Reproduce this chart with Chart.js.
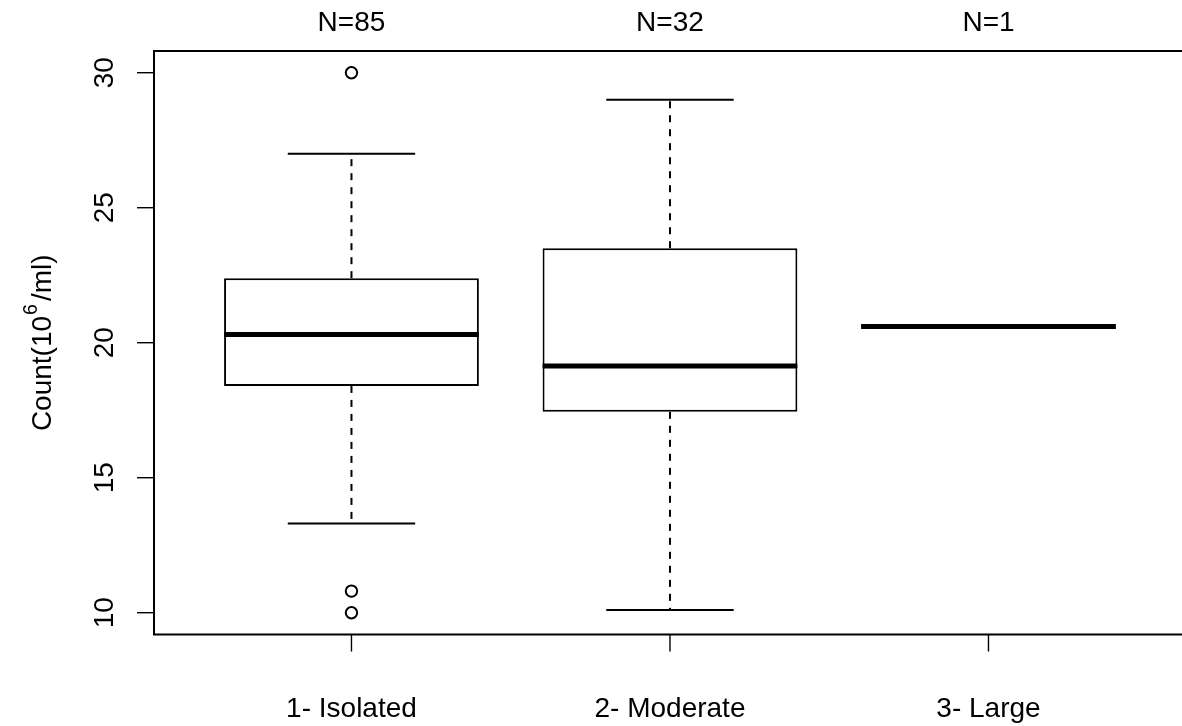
<!DOCTYPE html>
<html>
<head>
<meta charset="utf-8">
<script src="https://cdn.jsdelivr.net/npm/chart.js@4/dist/chart.umd.min.js"></script>
<style>
  html, body { margin: 0; padding: 0; background: #fff; overflow: hidden; }
</style>
</head>
<body>
<canvas id="chart" width="1182" height="726"></canvas>
<script>
// ===== data =====
const groups = ['1- Isolated', '2- Moderate', '3- Large'];
const counts = ['N=85', 'N=32', 'N=1'];
const groupX = [1, 2, 3];
const whiskerLow = [13.3, 10.1, 20.6];
const q1 = [18.4, 17.44, 20.6];
const median = [20.3, 19.14, 20.6];
const q3 = [22.39, 23.5, 20.6];
const whiskerHigh = [27.0, 29.0, 20.6];
const outlierX = [1, 1, 1];
const outlierY = [30, 10.8, 10.0];
const yTicks = [10, 15, 20, 25, 30];

const FONT = '"Liberation Sans", Arial, Helvetica, sans-serif';
const BOXWEX = 0.8;
const X_FRAME_MAX = 3.62;   // R plot region edge (just past the right side of the image)

// ===== R-ish boxplot drawing (whiskers, medians, frame, axes) =====
const rBoxplot = {
  id: 'rBoxplot',
  beforeDatasetsDraw(chart) {
    const { ctx, scales: { x, y } } = chart;
    ctx.save();
    ctx.strokeStyle = '#000';
    ctx.lineWidth = 2;
    groupX.forEach((g, i) => {
      const cx = x.getPixelForValue(g);
      const sl = x.getPixelForValue(g - BOXWEX / 4), sr = x.getPixelForValue(g + BOXWEX / 4);
      // dashed whiskers from box edge outward
      ctx.setLineDash([7, 7]);
      if (whiskerHigh[i] !== q3[i]) {
        ctx.beginPath(); ctx.moveTo(cx, y.getPixelForValue(q3[i])); ctx.lineTo(cx, y.getPixelForValue(whiskerHigh[i])); ctx.stroke();
      }
      if (whiskerLow[i] !== q1[i]) {
        ctx.beginPath(); ctx.moveTo(cx, y.getPixelForValue(q1[i])); ctx.lineTo(cx, y.getPixelForValue(whiskerLow[i])); ctx.stroke();
      }
      ctx.setLineDash([]);
      // staples
      if (whiskerHigh[i] !== q3[i]) {
        const yy = y.getPixelForValue(whiskerHigh[i]);
        ctx.beginPath(); ctx.moveTo(sl, yy); ctx.lineTo(sr, yy); ctx.stroke();
      }
      if (whiskerLow[i] !== q1[i]) {
        const yy = y.getPixelForValue(whiskerLow[i]);
        ctx.beginPath(); ctx.moveTo(sl, yy); ctx.lineTo(sr, yy); ctx.stroke();
      }
    });
    ctx.restore();
  },
  afterDatasetsDraw(chart) {
    const { ctx, chartArea: a, scales: { x, y } } = chart;
    ctx.save();
    // medians
    ctx.strokeStyle = '#000';
    ctx.lineWidth = 5;
    ctx.lineCap = 'butt';
    groupX.forEach((g, i) => {
      const yy = y.getPixelForValue(median[i]);
      ctx.beginPath();
      ctx.moveTo(x.getPixelForValue(g - BOXWEX / 2), yy);
      ctx.lineTo(x.getPixelForValue(g + BOXWEX / 2), yy);
      ctx.stroke();
    });
    // frame (right side falls just outside the canvas, as in the reference)
    ctx.lineWidth = 2;
    const fr = x.getPixelForValue(X_FRAME_MAX);
    ctx.strokeRect(a.left, a.top, fr - a.left, a.bottom - a.top);
    // ticks
    ctx.lineWidth = 1.4;
    yTicks.forEach(v => {
      const yy = y.getPixelForValue(v);
      ctx.beginPath(); ctx.moveTo(a.left - 17, yy); ctx.lineTo(a.left, yy); ctx.stroke();
    });
    groupX.forEach(g => {
      const xx = x.getPixelForValue(g);
      ctx.beginPath(); ctx.moveTo(xx, a.bottom); ctx.lineTo(xx, a.bottom + 17); ctx.stroke();
    });
    // labels
    ctx.fillStyle = '#000';
    ctx.font = '28px ' + FONT;
    ctx.textAlign = 'center';
    ctx.textBaseline = 'alphabetic';
    groupX.forEach((g, i) => {
      const xx = x.getPixelForValue(g);
      ctx.fillText(groups[i], xx, 717);
      ctx.fillText(counts[i], xx, 31);
    });
    yTicks.forEach(v => {
      const yy = y.getPixelForValue(v);
      ctx.save();
      ctx.translate(113, yy);
      ctx.rotate(-Math.PI / 2);
      ctx.fillText(String(v), 0, 0);
      ctx.restore();
    });
    // y title: Count(10^6/ml)
    const p1 = 'Count(10', sup = '6', p2 = '/ml)';
    const big = '28px ' + FONT, small = '19.6px ' + FONT;
    ctx.font = big; const w1 = ctx.measureText(p1).width, w3 = ctx.measureText(p2).width;
    ctx.font = small; const w2 = ctx.measureText(sup).width;
    const total = w1 + w2 + w3 + 4;
    ctx.save();
    ctx.translate(50.7, (a.top + a.bottom) / 2);
    ctx.rotate(-Math.PI / 2);
    ctx.textAlign = 'left';
    let s = -total / 2;
    ctx.font = big; ctx.fillText(p1, s, 0); s += w1 + 1;
    ctx.font = small; ctx.fillText(sup, s, -14); s += w2 + 3;
    ctx.font = big; ctx.fillText(p2, s, 0);
    ctx.restore();
    ctx.restore();
  }
};

// ===== chart =====
const ctx = document.getElementById('chart').getContext('2d');
new Chart(ctx, {
  type: 'bar',
  data: {
    datasets: [{
      label: 'box',
      data: groupX.map((g, i) => ({ x: g, y: [q1[i], q3[i]] })),
      backgroundColor: '#fff',
      borderColor: '#000',
      borderWidth: 2,
      borderSkipped: false,
      barPercentage: BOXWEX,
      categoryPercentage: 1.0,
      order: 2
    }, {
      type: 'scatter',
      label: 'outliers',
      data: outlierX.map((g, i) => ({ x: g, y: outlierY[i] })),
      pointStyle: 'circle',
      pointRadius: 5.7,
      pointBorderWidth: 2,
      pointBackgroundColor: 'rgba(0,0,0,0)',
      pointBorderColor: '#000',
      order: 1
    }]
  },
  options: {
    responsive: false,
    animation: false,
    layout: { autoPadding: false, padding: { left: 154, top: 51, right: 0, bottom: 91.5 } },
    plugins: { legend: { display: false }, tooltip: { enabled: false } },
    scales: {
      x: {
        type: 'linear', display: false, min: 0.38, max: 3.6076, offset: false,
        afterBuildTicks: s => { s.ticks = groupX.map(v => ({ value: v })); }
      },
      y: {
        type: 'linear', display: false, min: 9.193, max: 30.804,
        afterBuildTicks: s => { s.ticks = yTicks.map(v => ({ value: v })); }
      }
    }
  },
  plugins: [rBoxplot]
});
</script>
</body>
</html>
